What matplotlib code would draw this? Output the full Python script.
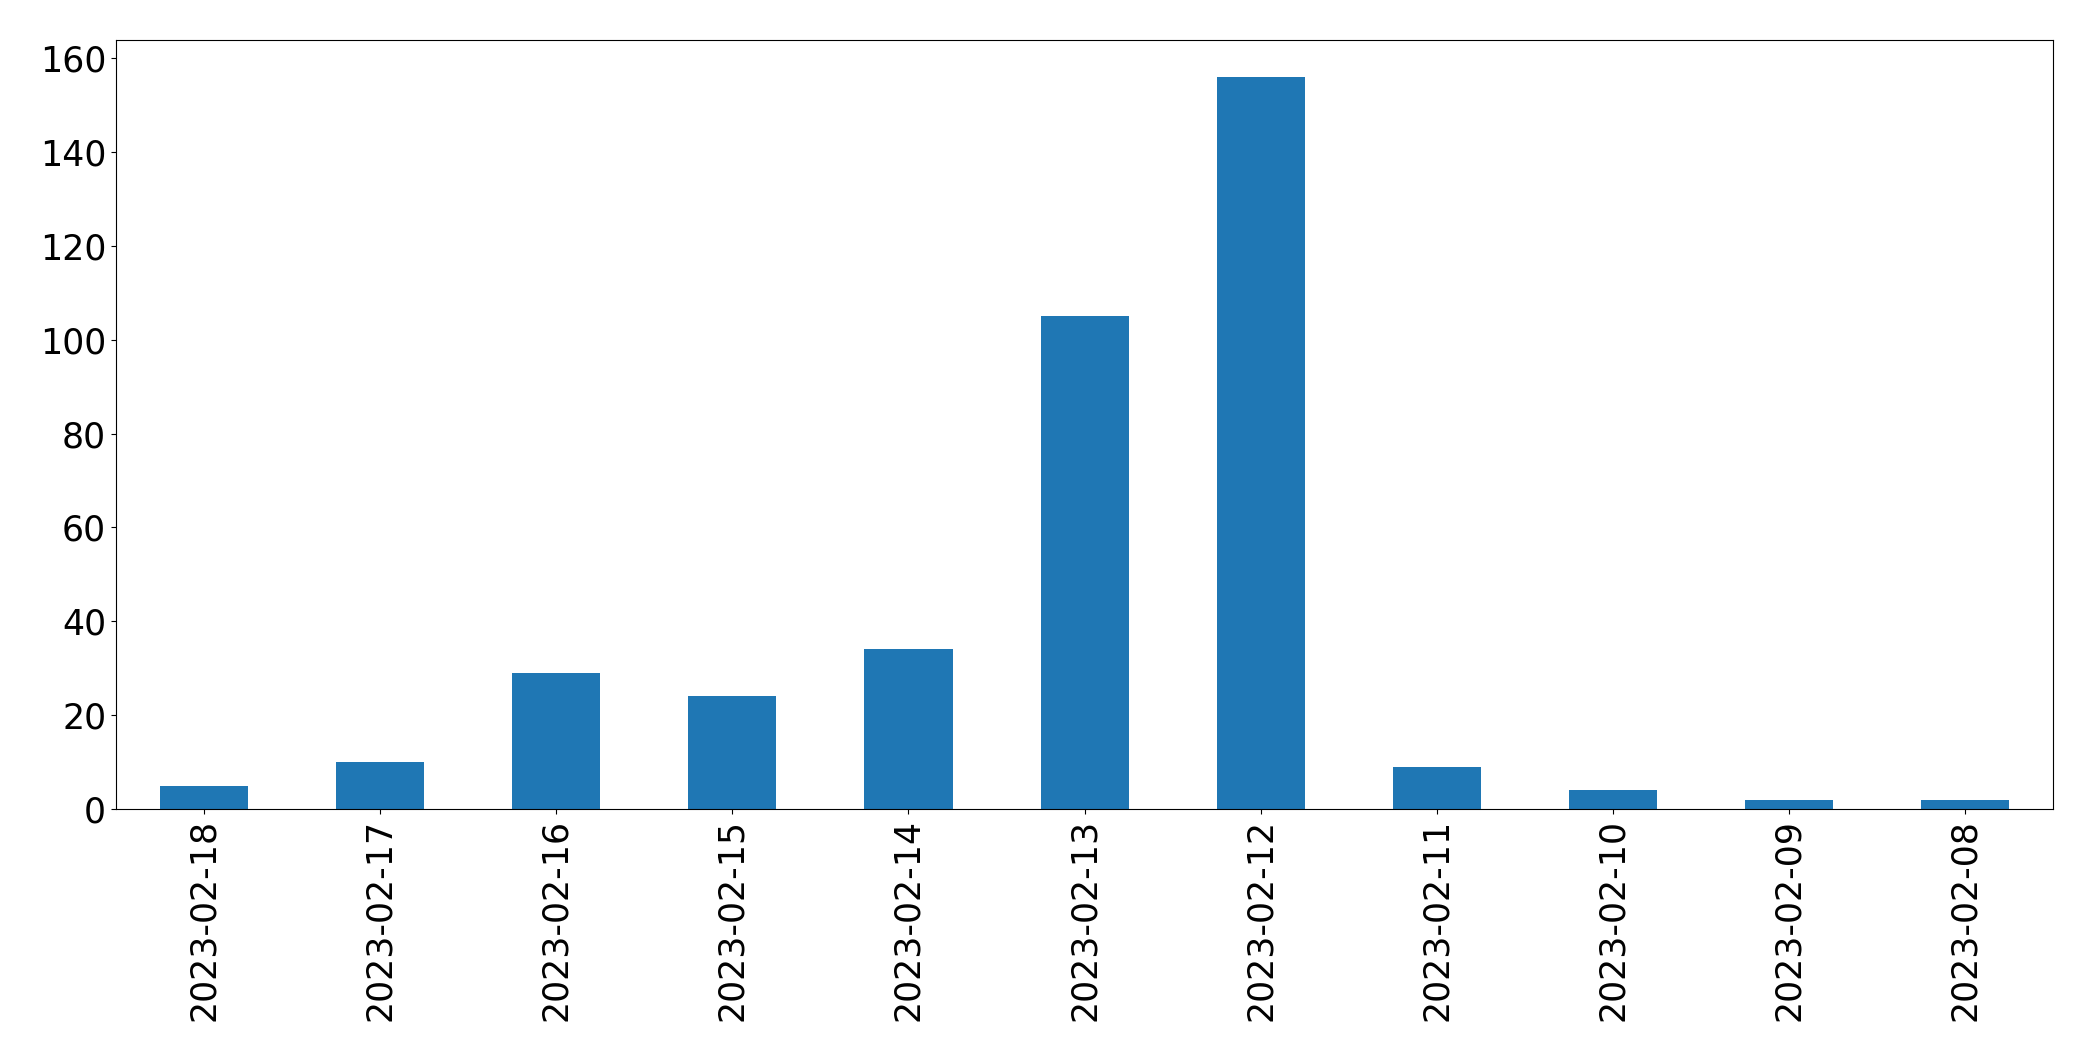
import matplotlib
matplotlib.use("Agg")
import matplotlib.pyplot as plt
import numpy as np

dates = ["2023-02-18", "2023-02-17", "2023-02-16", "2023-02-15", "2023-02-14",
         "2023-02-13", "2023-02-12", "2023-02-11", "2023-02-10", "2023-02-09",
         "2023-02-08"]
counts = [5, 10, 29, 24, 34, 105, 156, 9, 4, 2, 2]

fig = plt.figure(figsize=(20.93, 10.61), dpi=100)
ax = fig.add_axes([0.0554, 0.2375, 0.9256, 0.7245])
x = np.arange(len(dates))
ax.bar(x, counts, width=0.5, color="#1f77b4")
ax.set_xlim(-0.5, len(dates) - 0.5)
ax.set_ylim(0, max(counts) * 1.05)
ax.set_xticks(x)
ax.set_xticklabels(dates, rotation=90)
ax.tick_params(axis="both", labelsize=25)
fig.savefig("out.png", dpi=100)
